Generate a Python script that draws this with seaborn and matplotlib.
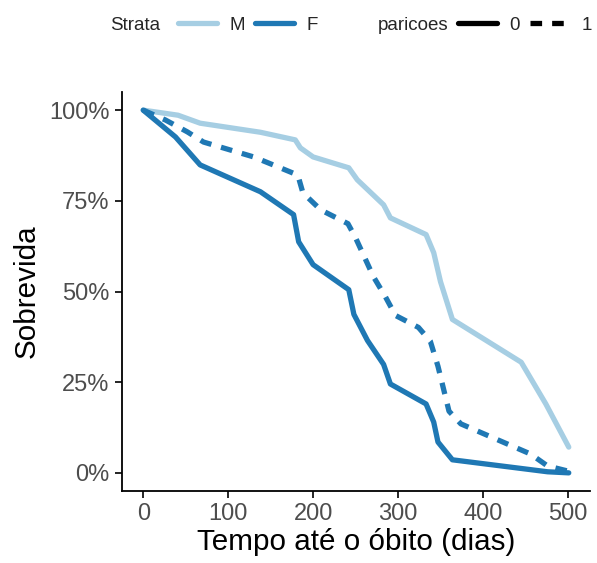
import pandas as pd
import matplotlib.pyplot as plt
import seaborn as sns
from matplotlib.lines import Line2D
from matplotlib.ticker import PercentFormatter

# Survival curves (days, survival %)
m_days = [0, 41, 67, 138, 179, 185, 200, 242, 252, 283, 291, 333, 342, 350, 364, 445, 474, 501]
m_surv = [100, 98.6, 96.4, 93.9, 91.8, 89.6, 87.1, 84.1, 80.8, 73.9, 70.3, 65.7, 60.7, 52.7, 42.3, 30.5, 19.0, 7.1]

f0_days = [0, 38, 67, 138, 177, 183, 200, 242, 248, 264, 283, 291, 333, 342, 347, 364, 476, 501]
f0_surv = [100, 92.6, 84.9, 77.5, 71.2, 63.7, 57.4, 50.5, 43.7, 36.5, 29.9, 24.5, 19.0, 14.0, 8.5, 3.6, 0.3, 0]

f1_days = [0, 26, 52, 71, 130, 153, 182, 188, 209, 241, 250, 271, 285, 297, 324, 338, 347, 360, 374, 456, 476, 500]
f1_surv = [100, 97.3, 94.0, 91.2, 87.1, 84.9, 82.1, 77.2, 72.5, 68.7, 64.8, 54.1, 48.6, 43.4, 40.1, 36.3, 29.4, 17.0, 13.5, 5.2, 1.9, 0.5]

strata_labels = ["M", "F"]
paricoes_labels = ["0", "1"]
palette = {"M": "#a6cee3", "F": "#1f78b4"}
DASH = (2.2, 1.9)


def build_frame():
    parts = [
        pd.DataFrame({"tempo": m_days, "surv": m_surv, "strata": "M", "paricoes": "0", "grp": "M0"}),
        pd.DataFrame({"tempo": f0_days, "surv": f0_surv, "strata": "F", "paricoes": "0", "grp": "F0"}),
        pd.DataFrame({"tempo": f1_days, "surv": f1_surv, "strata": "F", "paricoes": "1", "grp": "F1"}),
    ]
    return pd.concat(parts, ignore_index=True)


sns.set_theme(style="ticks")
plt.rcParams["font.family"] = ["Liberation Sans", "DejaVu Sans"]

data = build_frame()

fig = plt.figure(figsize=(5.97, 5.63), dpi=100)
ax = fig.add_axes([122 / 597, 1 - 491 / 563, (590 - 122) / 597, (491 - 92) / 563])

sns.lineplot(data=data, x="tempo", y="surv", hue="strata", style="paricoes",
             units="grp", estimator=None, palette=palette,
             hue_order=strata_labels, style_order=paricoes_labels,
             dashes={"0": "", "1": DASH}, linewidth=3.8,
             sort=False, legend=False, ax=ax)

ax.set_xlim(-25, 526)
ax.set_ylim(-5, 105)
ax.set_xticks([0, 100, 200, 300, 400, 500])
ax.set_yticks([0, 25, 50, 75, 100])
ax.yaxis.set_major_formatter(PercentFormatter(decimals=0))
ax.set_xlabel("Tempo até o óbito (dias)", fontsize=21.3, color="black", labelpad=2)
ax.set_ylabel("Sobrevida", fontsize=21.3, color="black", labelpad=6)
ax.tick_params(axis="both", labelsize=17, labelcolor="#4d4d4d", color="black",
               length=5, width=1.2, pad=4)
for side in ["top", "right"]:
    ax.spines[side].set_visible(False)
for side in ["left", "bottom"]:
    ax.spines[side].set_linewidth(1.3)
    ax.spines[side].set_color("black")

# legends across the top
ly = 1 - 25 / 563
leg_fs = 13.5
leg_kw = dict(loc="center left", ncol=2, frameon=False, fontsize=leg_fs,
              handlelength=2.08, columnspacing=0.55, handletextpad=0.65,
              borderaxespad=0, borderpad=0)

fig.text(110 / 597, ly, "Strata", fontsize=leg_fs, va="center", ha="left")
strata_handles = [Line2D([], [], color=palette[s], lw=3.8) for s in strata_labels]
fig.legend(strata_handles, strata_labels, bbox_to_anchor=(178 / 597, ly), **leg_kw)

fig.text(378 / 597, ly, "paricoes", fontsize=leg_fs, va="center", ha="left")
par_handles = [Line2D([], [], color="black", lw=3.8),
               Line2D([], [], color="black", lw=3.8, dashes=DASH)]
fig.legend(par_handles, paricoes_labels, bbox_to_anchor=(458 / 597, ly), **leg_kw)

fig.savefig("out.png", dpi=100)
plt.close(fig)
